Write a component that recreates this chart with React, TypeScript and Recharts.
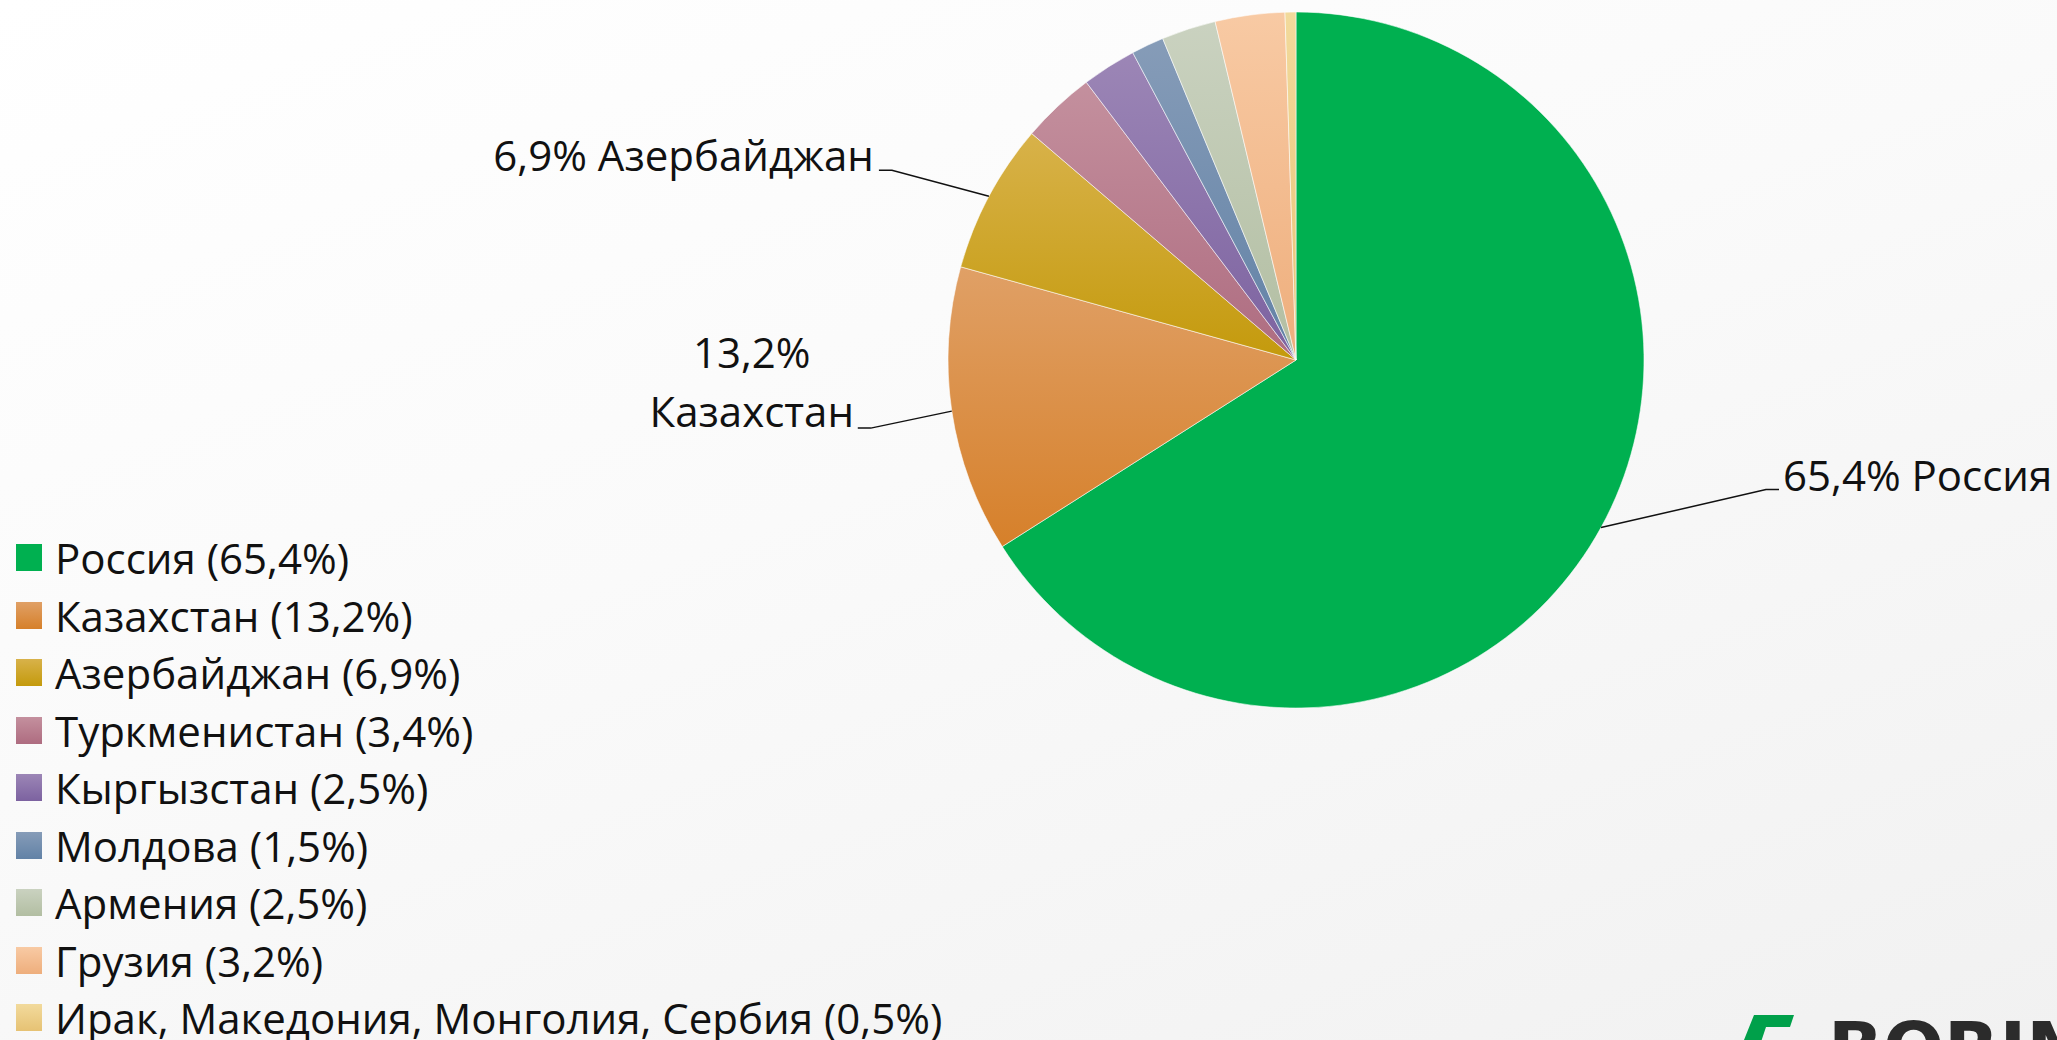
import React from 'react';
import { PieChart, Pie, Cell, Legend } from 'recharts';

const COUNTRIES = [
  'Россия',
  'Казахстан',
  'Азербайджан',
  'Туркменистан',
  'Кыргызстан',
  'Молдова',
  'Армения',
  'Грузия',
  'Ирак, Македония, Монголия, Сербия',
];
const SHARES = [65.4, 13.2, 6.9, 3.4, 2.5, 1.5, 2.5, 3.2, 0.5];

// vertical gradient per slice: top / bottom
const COLOR_TOP = ['#00B050', '#E0A066', '#D8B24A', '#C4909E', '#9C86B6', '#869CB8', '#CAD2C0', '#F8CAA4', '#F2DA9C'];
const COLOR_BOTTOM = ['#00B050', '#D6802A', '#C49A0C', '#AE6C80', '#7C62A0', '#6282A6', '#B2BEA2', '#EEAE7C', '#E6C274'];

const data = COUNTRIES.map((name, i) => ({ name, value: SHARES[i] }));

const fmt = (v: number) => v.toFixed(1).replace('.', ',') + '%';

const FONT = '"Open Sans", "Noto Sans", sans-serif';
const RADIAN = Math.PI / 180;

// callout layout for the labelled slices: elbow offset from slice edge
const CALLOUTS: Record<number, { dx: number; dy: number; side: 'right' | 'left' | 'stack' }> = {
  0: { dx: 165, dy: -38, side: 'right' },
  1: { dx: -81, dy: 17, side: 'stack' },
  2: { dx: -97, dy: -26, side: 'left' },
};

const renderLabel = (props: any) => {
  const { cx, cy, midAngle, outerRadius, index, value, name } = props;
  const c = CALLOUTS[index];
  if (!c) return null;
  const ex = cx + outerRadius * Math.cos(-midAngle * RADIAN);
  const ey = cy + outerRadius * Math.sin(-midAngle * RADIAN);
  const bx = ex + c.dx;
  const by = ey + c.dy;
  const hx = c.side === 'right' ? bx + 13 : bx - 13;
  const txt = { fontFamily: FONT, fontSize: 42, fill: '#111' };
  return (
    <g key={`lbl-${index}`}>
      <polyline points={`${ex},${ey} ${bx},${by} ${hx},${by}`} fill="none" stroke="#111" strokeWidth={1.5} />
      {c.side === 'right' && (
        <text x={bx + 17} y={by + 1} textAnchor="start" style={txt}>{`${fmt(value)} ${name}`}</text>
      )}
      {c.side === 'left' && (
        <text x={bx - 18} y={by + 1} textAnchor="end" style={txt}>{`${fmt(value)} ${name}`}</text>
      )}
      {c.side === 'stack' && (
        <text textAnchor="middle" style={txt}>
          <tspan x={bx - 119} y={by - 60}>{fmt(value)}</tspan>
          <tspan x={bx - 119} y={by - 1}>{name}</tspan>
        </text>
      )}
    </g>
  );
};

const renderLegend = () => (
  <div style={{ fontFamily: FONT, fontSize: 42, color: '#111' }}>
    {COUNTRIES.map((name, i) => (
      <div key={name} style={{ display: 'flex', alignItems: 'center', height: 57.5, whiteSpace: 'nowrap' }}>
        <span
          style={{
            display: 'inline-block',
            width: 26,
            height: 27,
            marginLeft: 16,
            marginRight: 13,
            background: `linear-gradient(${COLOR_TOP[i]}, ${COLOR_BOTTOM[i]})`,
          }}
        />
        <span>{`${name} (${fmt(SHARES[i])})`}</span>
      </div>
    ))}
  </div>
);

export default function App() {
  return (
    <div
      style={{
        position: 'absolute',
        left: 0,
        top: 0,
        width: 2057,
        height: 1040,
        overflow: 'hidden',
        background: 'linear-gradient(160deg, #FFFFFF 0%, #FAFAFA 45%, #F1F1F1 100%)',
      }}
    >
      <PieChart width={2057} height={1040} margin={{ top: 0, right: 0, bottom: 0, left: 0 }}>
        <defs>
          {COUNTRIES.map((_, i) => (
            <linearGradient key={i} id={`slice-${i}`} x1="0" y1="0" x2="0" y2="1">
              <stop offset="0%" stopColor={COLOR_TOP[i]} />
              <stop offset="100%" stopColor={COLOR_BOTTOM[i]} />
            </linearGradient>
          ))}
        </defs>
        <Pie
          data={data}
          dataKey="value"
          nameKey="name"
          cx={1296}
          cy={360}
          outerRadius={348}
          startAngle={90}
          endAngle={-270}
          stroke="rgba(255,255,255,0.55)"
          strokeWidth={1}
          label={renderLabel}
          labelLine={false}
          isAnimationActive={false}
        >
          {data.map((_, i) => (
            <Cell key={`cell-${i}`} fill={`url(#slice-${i})`} />
          ))}
        </Pie>
        {/* center/middle keeps the legend from shifting the plot area */}
        <Legend
          content={renderLegend}
          layout="horizontal"
          verticalAlign="middle"
          align="center"
          wrapperStyle={{ left: 0, top: 529, width: 1000 }}
        />
      </PieChart>
      {/* logo fragment at the bottom edge */}
      <svg style={{ position: 'absolute', left: 1740, top: 1005 }} width={317} height={35}>
        <path d="M14 10 L54 10 L50 22 L26 22 L20 40 L2 40 Z" fill="#00A04A" />
        <text x={88} y={68} style={{ fontFamily: '"DejaVu Sans", sans-serif', fontWeight: 900, fontSize: 72, fill: '#2B2B2B' }}>
          BORIMED
        </text>
      </svg>
    </div>
  );
}
